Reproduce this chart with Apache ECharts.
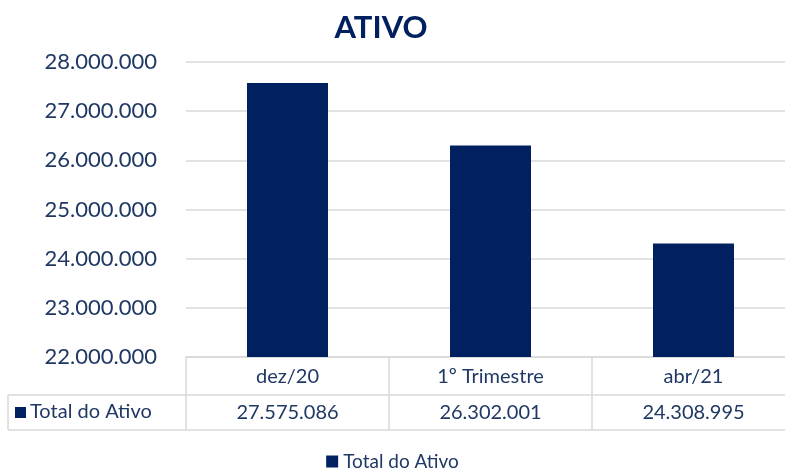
<!DOCTYPE html>
<html>
<head>
<meta charset="utf-8">
<script src="https://cdn.jsdelivr.net/npm/echarts@6/dist/echarts.min.js"></script>
<style>
  html, body { margin: 0; padding: 0; background: #fff; }
  #main { width: 785px; height: 468px; }
</style>
</head>
<body>
<div id="main"></div>
<script>
// dados do gráfico
var categorias = ['dez/20', '1º Trimestre', 'abr/21'];
var totalAtivo = [27575086, 26302001, 24308995];
var nomeSerie = 'Total do Ativo';
var eixoMin = 22000000, eixoMax = 28000000, eixoPasso = 1000000;

var azul = '#002060';
var texto = '#1f3864';
var linha = '#d9d9d9';
var fonte = 'Lato, "Open Sans", sans-serif';

function fmt(v) {
    return String(v).replace(/\B(?=(\d{3})+(?!\d))/g, '.');
}

var myChart = echarts.init(document.getElementById('main'));
myChart.setOption({
    animation: false,
    textStyle: { fontFamily: fonte },
    title: {
        text: 'ATIVO',
        left: 376,
        textAlign: 'center',
        top: 7,
        textStyle: { color: azul, fontSize: 31, fontWeight: 'bold', fontFamily: fonte }
    },
    legend: {
        bottom: -8,
        left: 'center',
        icon: 'rect',
        itemWidth: 12,
        itemHeight: 12,
        itemGap: 6,
        data: [nomeSerie],
        textStyle: { color: texto, fontSize: 19, fontFamily: fonte }
    },
    grid: { left: 186, width: 609, top: 62, bottom: 111, outerBoundsMode: 'none' },
    xAxis: {
        type: 'category',
        data: categorias,
        axisLine: { lineStyle: { color: linha, width: 1.5 } },
        axisTick: { show: true, length: 73, lineStyle: { color: linha, width: 1.5 } },
        axisLabel: {
            margin: 2,
            formatter: function (v, i) {
                return '{c|' + v + '}\n{v|' + fmt(totalAtivo[i]) + '}';
            },
            rich: {
                c: { color: texto, fontSize: 20, lineHeight: 36, fontFamily: fonte },
                v: { color: texto, fontSize: 20, lineHeight: 36, fontFamily: fonte }
            }
        }
    },
    yAxis: {
        type: 'value',
        min: eixoMin,
        max: eixoMax,
        interval: eixoPasso,
        axisLine: { show: false },
        axisTick: { show: false },
        splitLine: { lineStyle: { color: linha, width: 1.5 } },
        axisLabel: {
            margin: 29,
            color: texto,
            fontSize: 22,
            fontFamily: fonte,
            formatter: fmt
        }
    },
    series: [{
        name: nomeSerie,
        type: 'bar',
        data: totalAtivo,
        barWidth: 81,
        itemStyle: { color: azul }
    }],
    graphic: [
        { type: 'line', shape: { x1: 8, y1: 395, x2: 785, y2: 395 }, style: { stroke: linha, lineWidth: 1.5 } },
        { type: 'line', shape: { x1: 8, y1: 430, x2: 785, y2: 430 }, style: { stroke: linha, lineWidth: 1.5 } },
        { type: 'line', shape: { x1: 8, y1: 395, x2: 8, y2: 430 }, style: { stroke: linha, lineWidth: 1.5 } },
        { type: 'rect', shape: { x: 15, y: 407, width: 11, height: 11 }, style: { fill: azul } },
        { type: 'text', x: 30, y: 412, style: { text: nomeSerie, fill: texto, fontSize: 20, fontFamily: fonte, verticalAlign: 'middle' } }
    ]
});
</script>
</body>
</html>
